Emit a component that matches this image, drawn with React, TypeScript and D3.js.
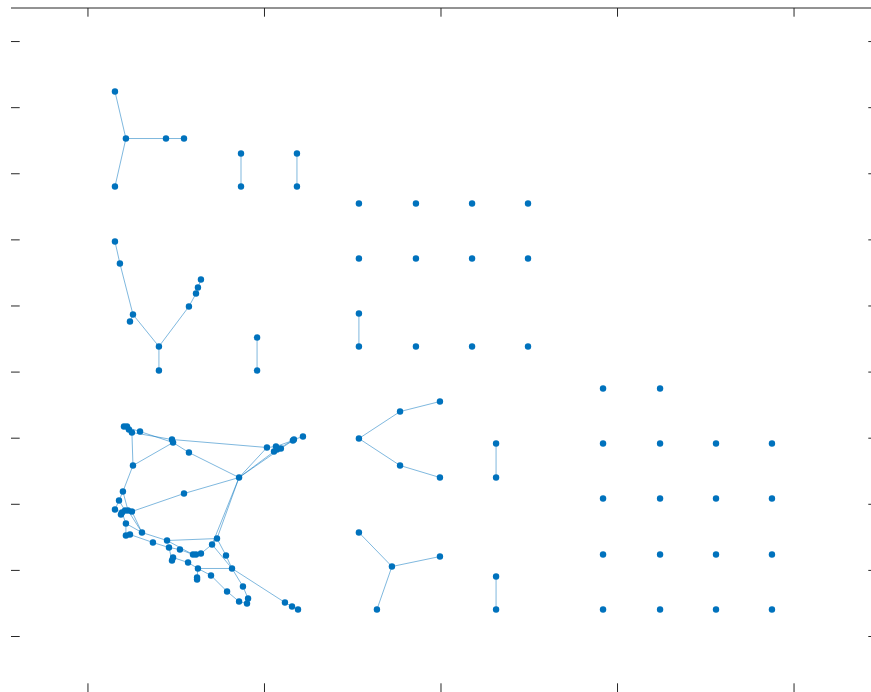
import React from "react";
import * as d3 from "d3";

// Tick values (no labels shown in the reference)
const xTicks = [0, 10, 20, 30, 40];
const yTicks = [0, 10, 20, 30, 40, 50, 60, 70, 80, 90];
const xLimits = [-4.36, 44.7];
const yLimits = [-8.47, 95.0];

// Small components: node coordinates
const nodeX = [
  1.53, 2.15, 1.53, 4.42, 5.44, // star
  8.67, 8.67, 11.84, 11.84, // pairs
  15.35, 18.58, 21.76, 24.93, 15.35, 18.58, 21.76, 24.93, // isolated rows
  15.35, 15.35, 18.58, 21.76, 24.93,
  1.53, 1.81, 2.55, 2.38, 4.02, 4.02, 5.72, 6.12, 6.23, 6.4, // tree
  9.58, 9.58, // pair
  15.35, 17.68, 19.94, 17.68, 19.94, // fork
  23.12, 23.12, // pair
  15.35, 17.22, 19.94, 16.37, // star
  23.12, 23.12, // pair
  29.18, 32.41, // isolated
  29.18, 32.41, 35.58, 38.75,
  29.18, 32.41, 35.58, 38.75,
  29.18, 32.41, 35.58, 38.75,
  29.18, 32.41, 35.58, 38.75,
];
const nodeY = [
  82.44, 75.33, 68.07, 75.33, 75.33,
  73.06, 68.07, 73.06, 68.07,
  65.5, 65.5, 65.5, 65.5, 57.18, 57.18, 57.18, 57.18,
  48.86, 43.87, 43.87, 43.87, 43.87,
  59.75, 56.42, 48.71, 47.65, 43.87, 40.24, 49.92, 51.88, 52.79, 54.0,
  45.23, 40.24,
  29.95, 34.03, 35.55, 25.87, 24.05,
  29.19, 24.05,
  15.73, 10.59, 12.1, 4.08,
  9.08, 4.08,
  37.51, 37.51,
  29.19, 29.19, 29.19, 29.19,
  20.87, 20.87, 20.87, 20.87,
  12.4, 12.4, 12.4, 12.4,
  4.08, 4.08, 4.08, 4.08,
];
const edges: [number, number][] = [
  [1, 0], [1, 2], [1, 3], [3, 4],
  [5, 6], [7, 8], [17, 18],
  [22, 23], [23, 24], [24, 25], [24, 26], [26, 27], [26, 28], [28, 29], [29, 30], [30, 31],
  [32, 33],
  [34, 35], [35, 36], [34, 37], [37, 38],
  [39, 40],
  [41, 42], [42, 43], [42, 44],
  [45, 46],
];

// Large connected cluster
const clusterX = [
  2.04, 2.21, 2.32, 2.49, 2.95, 4.76, 4.82, 5.72, 2.55, 1.98,
  5.44, 1.76, 1.53, 1.87, 1.93, 2.1, 2.27, 2.49, 2.15, 2.15,
  2.38, 3.06, 3.68, 4.48, 4.59, 5.21, 4.82, 4.76, 5.67, 5.95,
  6.12, 6.4, 7.03, 7.31, 7.82, 8.16, 6.23, 6.18, 6.18, 6.97,
  7.88, 8.78, 8.56, 9.07, 9.01, 11.16, 11.56, 11.9, 8.56, 10.14,
  10.65, 10.54, 10.71, 10.93, 11.61, 11.67, 12.18,
];
const clusterY = [
  31.76, 31.76, 31.31, 30.86, 31.01, 29.8, 29.34, 27.83, 25.87, 21.93,
  21.63, 20.57, 19.21, 18.45, 18.76, 19.06, 19.06, 18.91, 17.09, 15.28,
  15.43, 15.73, 14.22, 14.52, 13.46, 13.16, 11.95, 11.5, 11.19, 12.4,
  12.4, 12.55, 13.92, 14.82, 12.25, 10.29, 10.29, 8.92, 8.62, 9.23,
  6.81, 7.56, 5.29, 5.75, 4.99, 5.14, 4.54, 4.08, 24.05, 28.59,
  28.74, 27.98, 28.29, 28.44, 29.65, 29.8, 30.25,
];
const clusterEdges: [number, number][] = [
  [0, 2], [1, 2], [2, 3], [0, 4], [3, 5], [4, 6], [5, 49], [6, 7], [7, 48],
  [3, 8], [8, 6], [8, 9], [9, 11], [11, 12], [9, 16], [11, 15], [12, 14],
  [13, 14], [14, 15], [15, 16], [16, 17], [17, 10], [10, 48],
  [48, 49], [48, 51], [48, 53], [49, 50], [50, 54], [51, 52], [52, 53],
  [53, 54], [54, 55], [55, 56], [51, 55], [48, 33], [48, 32],
  [14, 18], [18, 19], [19, 20], [20, 22], [22, 24], [16, 21], [18, 21],
  [21, 23], [23, 33], [23, 29], [24, 25], [25, 29], [29, 30], [30, 31],
  [31, 32], [32, 33], [26, 27], [26, 28], [24, 27], [28, 36], [36, 35],
  [36, 39], [39, 40], [40, 42], [42, 44], [43, 44], [41, 43], [35, 41],
  [34, 35], [33, 34], [32, 35], [35, 45], [45, 46], [46, 47], [37, 38],
  [36, 37], [17, 21],
];

const W = 871;
const H = 692;
const AX_LEFT = 11;
const AX_RIGHT = 877;
const AX_TOP = 8;
const AX_BOTTOM = 692;
const TICK = 8.7;
const AXIS_COLOR = "#262626";
const NODE_COLOR = "#0072BD";

export default function App() {
  const x = d3.scaleLinear().domain(xLimits).range([AX_LEFT, AX_RIGHT]);
  const y = d3.scaleLinear().domain(yLimits).range([AX_BOTTOM + 0.5, AX_TOP + 0.5]);

  const allX = nodeX.concat(clusterX);
  const allY = nodeY.concat(clusterY);
  const off = nodeX.length;
  const allEdges = edges.concat(
    clusterEdges.map(([a, b]) => [a + off, b + off] as [number, number])
  );
  const line = d3.line<[number, number]>().x((d) => x(d[0])).y((d) => y(d[1]));

  return (
    <svg
      width={W}
      height={H}
      style={{ position: "absolute", left: 0, top: 0, background: "#fff" }}
    >
      <rect width={W} height={H} fill="#fff" />
      {/* axes */}
      <line x1={AX_LEFT} x2={AX_RIGHT} y1={AX_TOP} y2={AX_TOP} stroke={AXIS_COLOR} strokeWidth={1} />
      {xTicks.map((t) => (
        <g key={"x" + t}>
          <line x1={x(t)} x2={x(t)} y1={AX_TOP} y2={AX_TOP + TICK} stroke={AXIS_COLOR} strokeWidth={1} />
          <line x1={x(t)} x2={x(t)} y1={AX_BOTTOM} y2={AX_BOTTOM - TICK} stroke={AXIS_COLOR} strokeWidth={1} />
        </g>
      ))}
      {yTicks.map((t) => (
        <g key={"y" + t}>
          <line x1={AX_LEFT} x2={AX_LEFT + TICK} y1={y(t)} y2={y(t)} stroke={AXIS_COLOR} strokeWidth={1} />
          <line x1={AX_RIGHT} x2={AX_RIGHT - TICK} y1={y(t)} y2={y(t)} stroke={AXIS_COLOR} strokeWidth={1} />
        </g>
      ))}
      {/* edges */}
      <g stroke={NODE_COLOR} strokeOpacity={0.5} strokeWidth={1} fill="none">
        {allEdges.map(([a, b], i) => (
          <path key={i} d={line([[allX[a], allY[a]], [allX[b], allY[b]]]) || ""} />
        ))}
      </g>
      {/* nodes */}
      <g fill={NODE_COLOR}>
        {allX.map((v, i) => (
          <circle key={i} cx={x(v)} cy={y(allY[i])} r={3.2} />
        ))}
      </g>
    </svg>
  );
}
